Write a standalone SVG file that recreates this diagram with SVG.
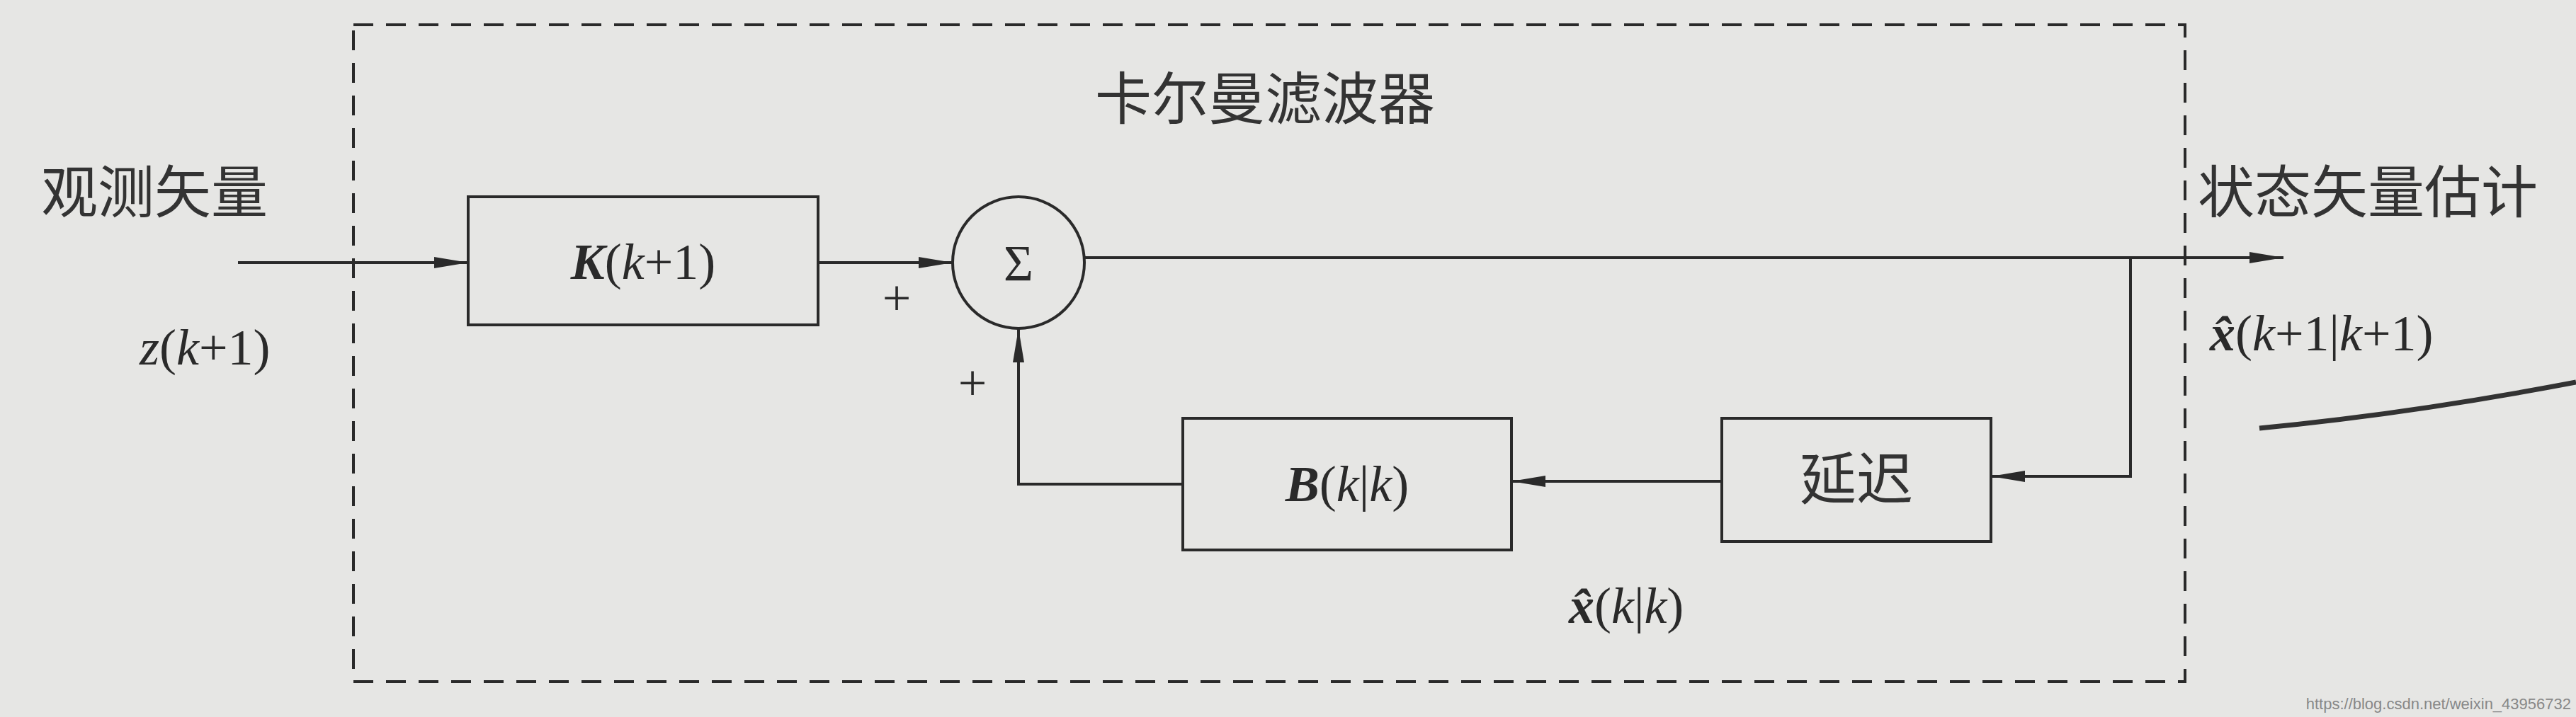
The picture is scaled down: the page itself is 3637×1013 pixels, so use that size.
<svg xmlns="http://www.w3.org/2000/svg" width="3637" height="1013" viewBox="0 0 3637 1013">
<style>
.ln{stroke:#2a2a2a;stroke-width:4;fill:none}
.bx{stroke:#2a2a2a;stroke-width:4;fill:none}
.cjk{font-family:"Noto Sans CJK SC","Liberation Sans",sans-serif;fill:#333;font-size:80px}
.mt{font-family:"Liberation Serif",serif;fill:#2a2a2a;font-size:72px}
.bi{font-weight:bold;font-style:italic}
</style>
<defs>
<marker id="ar" markerWidth="48" markerHeight="16" refX="48" refY="8" orient="auto" markerUnits="userSpaceOnUse">
<path d="M0,0 L48,8 L0,16 Z" fill="#2a2a2a"/>
</marker>
</defs>
<rect width="3637" height="1013" fill="#e6e6e4"/>
<rect x="499" y="35" width="2586" height="928" fill="none" stroke="#2a2a2a" stroke-width="4" stroke-dasharray="28,18"/>
<text class="cjk" x="1786" y="168" text-anchor="middle">卡尔曼滤波器</text>
<text class="cjk" x="58" y="300">观测矢量</text>
<text class="cjk" x="3103" y="300">状态矢量估计</text>
<g id="K"><rect class="bx" x="661" y="278" width="494" height="181"/><text class="mt" x="908" y="394" text-anchor="middle"><tspan class="bi">K</tspan>(<tspan font-style="italic">k</tspan>+1)</text></g>
<g id="sum"><circle class="bx" cx="1438" cy="371" r="93"/><text class="mt" x="1438" y="396" text-anchor="middle">Σ</text></g>
<g id="delay"><rect class="bx" x="2431" y="591" width="380" height="174"/><text class="cjk" x="2621" y="705" text-anchor="middle">延迟</text></g>
<g id="B"><rect class="bx" x="1670" y="591" width="464" height="186"/><text class="mt" x="1902" y="708" text-anchor="middle"><tspan class="bi">B</tspan>(<tspan font-style="italic">k</tspan>|<tspan font-style="italic">k</tspan>)</text></g>
<g id="connectors">
<line class="ln" x1="336" y1="371" x2="661" y2="371" marker-end="url(#ar)"/>
<line class="ln" x1="1155" y1="371" x2="1345" y2="371" marker-end="url(#ar)"/>
<line class="ln" x1="1531" y1="364" x2="3224" y2="364" marker-end="url(#ar)"/>
<polyline class="ln" points="3008,364 3008,673 2811,673" marker-end="url(#ar)"/>
<line class="ln" x1="2431" y1="680" x2="2134" y2="680" marker-end="url(#ar)"/>
<polyline class="ln" points="1670,684 1438,684 1438,464" marker-end="url(#ar)"/>
</g>
<text class="mt" x="1266" y="445" text-anchor="middle" font-size="60">+</text>
<text class="mt" x="1373" y="565" text-anchor="middle" font-size="60">+</text>
<text class="mt" x="197" y="515"><tspan font-style="italic">z</tspan>(<tspan font-style="italic">k</tspan>+1)</text>
<text class="mt" x="3120" y="495" font-size="66"><tspan class="bi">x̂</tspan>(<tspan font-style="italic">k</tspan>+1|<tspan font-style="italic">k</tspan>+1)</text>
<text class="mt" x="2215" y="880" font-size="66"><tspan class="bi">x̂</tspan>(<tspan font-style="italic">k</tspan>|<tspan font-style="italic">k</tspan>)</text>
<path d="M3190,605 Q3400,585 3637,540" stroke="#333" stroke-width="7" fill="none"/>
<text x="3630" y="1002" text-anchor="end" font-family="Liberation Sans,sans-serif" font-size="22" fill="#888">https://blog.csdn.net/weixin_43956732</text>
</svg>
